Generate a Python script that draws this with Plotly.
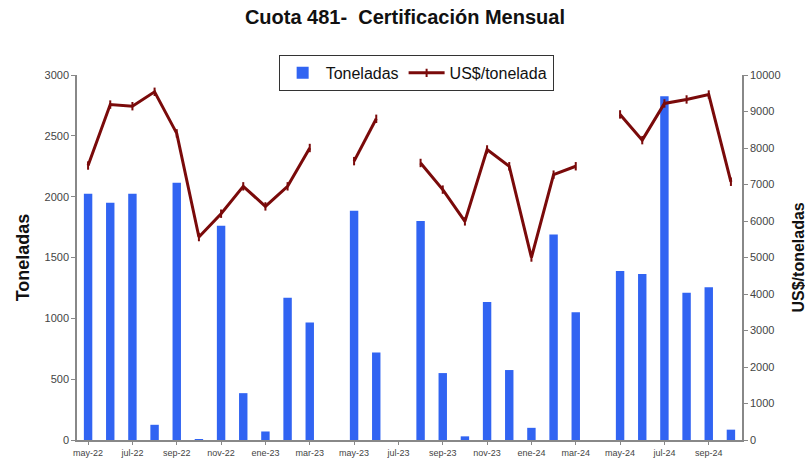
import plotly.graph_objects as go

# Meses (may-22 a oct-24)
meses = ["may-22", "jun-22", "jul-22", "ago-22", "sep-22", "oct-22", "nov-22", "dic-22",
         "ene-23", "feb-23", "mar-23", "abr-23", "may-23", "jun-23", "jul-23", "ago-23",
         "sep-23", "oct-23", "nov-23", "dic-23", "ene-24", "feb-24", "mar-24", "abr-24",
         "may-24", "jun-24", "jul-24", "ago-24", "sep-24", "oct-24"]

toneladas = [2025, 1950, 2025, 125, 2115, 5, 1760, 385,
             70, 1170, 965, 0, 1885, 720, 0, 1800,
             550, 30, 1135, 575, 100, 1690, 1050, 0,
             1390, 1365, 2825, 1210, 1255, 85]

precio = [7520, 9190, 9145, 9540, 8400, 5560, 6200, 6950,
          6400, 6950, 8000, None, 7640, 8800, None, 7590,
          6860, 5990, 7960, 7500, 5000, 7270, 7500, None,
          8920, 8215, 9220, 9330, 9465, 7075]

tick_labels = meses[::2]

fig = go.Figure()
fig.add_trace(go.Bar(
    x=meses, y=toneladas, name="Toneladas",
    marker=dict(color="#3164f2", line=dict(width=0)),
))
fig.add_trace(go.Scatter(
    x=meses, y=precio, name="US$/tonelada", yaxis="y2",
    mode="lines+markers", connectgaps=False,
    line=dict(color="#7a0a0a", width=3),
    marker=dict(symbol="line-ns", size=6, color="#7a0a0a", line=dict(width=2, color="#7a0a0a")),
))

axis_font = dict(family="Liberation Sans, Arial", size=11, color="#444")

fig.update_layout(
    width=805, height=459,
    paper_bgcolor="white", plot_bgcolor="white",
    margin=dict(l=77, r=63, t=75, b=19, autoexpand=False),
    bargap=0.62,
    title=dict(text="<b>Cuota 481-  Certificación Mensual</b>", x=0.503, xanchor="center",
               y=0.962, yanchor="middle", yref="container",
               font=dict(family="Liberation Sans, Arial", size=20, color="#111")),
    xaxis=dict(
        type="category", range=[-0.5, len(meses) - 0.5],
        tickmode="array", tickvals=tick_labels, ticktext=tick_labels,
        tickfont=dict(family="Liberation Sans, Arial", size=9, color="#444"),
        showline=True, linecolor="#888", linewidth=1.5, ticks="outside", ticklen=3,
        tickcolor="#888", showgrid=False, automargin=False,
    ),
    yaxis=dict(
        range=[0, 3000], dtick=500, tickfont=axis_font, automargin=False,
        showline=True, linecolor="#888", linewidth=1.5, ticks="outside", ticklen=4,
        tickcolor="#888", showgrid=False, zeroline=False,
        title=dict(text="<b>Toneladas</b>", standoff=10,
                   font=dict(family="Liberation Sans, Arial", size=18, color="#111")),
    ),
    yaxis2=dict(
        range=[0, 10000], dtick=1000, overlaying="y", side="right", tickfont=axis_font,
        tickformat="d", automargin=False,
        showline=True, linecolor="#888", linewidth=1.5, ticks="outside", ticklen=4,
        tickcolor="#888", showgrid=False, zeroline=False,
    ),
    legend=dict(
        orientation="h", x=0.51, xanchor="center", y=1.055, yanchor="top",
        bordercolor="#333", borderwidth=1, bgcolor="white",
        font=dict(family="Liberation Sans, Arial", size=16, color="#111"),
        itemwidth=36, tracegroupgap=0,
    ),
    annotations=[dict(
        text="<b>US$/toneladas</b>", textangle=-90, xref="paper", yref="paper",
        x=1.0, xshift=56, y=0.5, showarrow=False, xanchor="center", yanchor="middle",
        font=dict(family="Liberation Sans, Arial", size=16, color="#111"),
    )],
)

# quitar el margen por defecto de la pagina
fig.write_html("out.html", config={"displayModeBar": False},
               post_script="document.body.style.margin='0';")
